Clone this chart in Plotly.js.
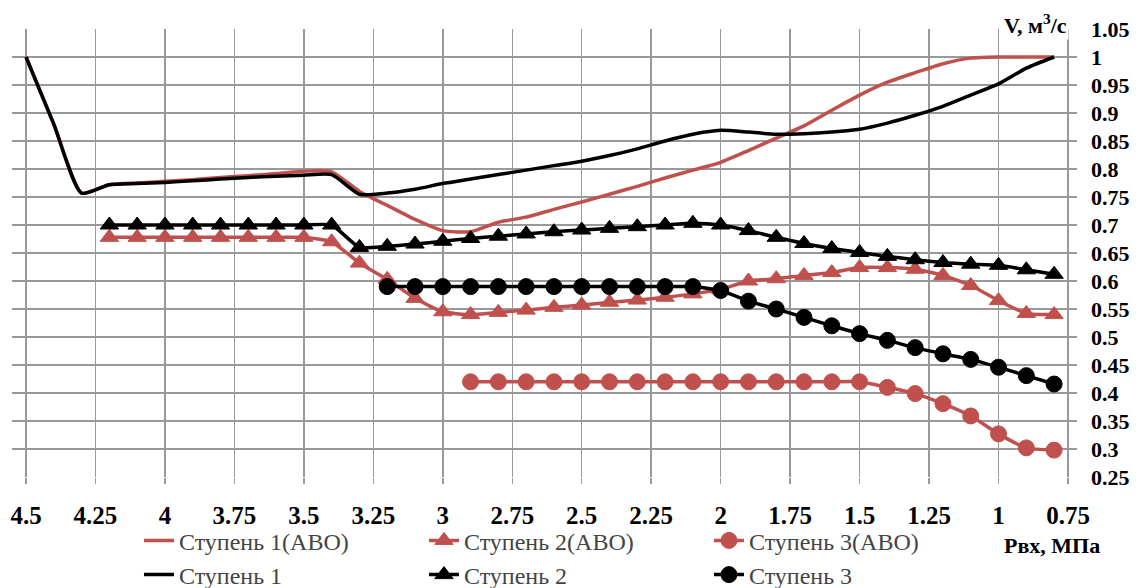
<!DOCTYPE html>
<html><head><meta charset="utf-8">
<script src="https://cdn.plot.ly/plotly-3.0.1.min.js"></script>
<style>
html,body{margin:0;padding:0;background:#fff;font-family:"Liberation Serif",serif}
#chart text{font-family:"Liberation Serif",serif !important}
</style>
</head><body><div id="chart" style="width:1141px;height:588px"></div>
<script>
// Pressure (MPa) grids
const pressureLine = [4.5,4.4,4.3,4.2,4.1,4.0,3.9,3.8,3.7,3.6,3.5,3.4,3.3,3.2,3.1,3.0,2.9,2.8,2.7,2.6,2.5,2.4,2.3,2.2,2.1,2.0,1.9,1.8,1.7,1.6,1.5,1.4,1.3,1.2,1.1,1.0,0.9,0.8];
const pressureStage2 = [4.2,4.1,4.0,3.9,3.8,3.7,3.6,3.5,3.4,3.3,3.2,3.1,3.0,2.9,2.8,2.7,2.6,2.5,2.4,2.3,2.2,2.1,2.0,1.9,1.8,1.7,1.6,1.5,1.4,1.3,1.2,1.1,1.0,0.9,0.8];
const pressureStage3 = [3.2,3.1,3.0,2.9,2.8,2.7,2.6,2.5,2.4,2.3,2.2,2.1,2.0,1.9,1.8,1.7,1.6,1.5,1.4,1.3,1.2,1.1,1.0,0.9,0.8];
const pressureStage3AVO = [2.9,2.8,2.7,2.6,2.5,2.4,2.3,2.2,2.1,2.0,1.9,1.8,1.7,1.6,1.5,1.4,1.3,1.2,1.1,1.0,0.9,0.8];

// Flow V (m3/s)
const stage1AVO = [1.0,0.88,0.757,0.772,0.775,0.778,0.781,0.785,0.788,0.792,0.796,0.795,0.76,0.735,0.71,0.69,0.688,0.705,0.714,0.728,0.741,0.755,0.769,0.784,0.798,0.812,0.833,0.855,0.877,0.905,0.932,0.955,0.972,0.988,0.998,1.0,1.0,1.0];
const stage1 = [1.0,0.88,0.757,0.772,0.774,0.776,0.779,0.782,0.785,0.787,0.789,0.79,0.755,0.757,0.764,0.774,0.782,0.79,0.798,0.806,0.814,0.824,0.836,0.85,0.862,0.869,0.866,0.862,0.863,0.866,0.871,0.882,0.896,0.912,0.932,0.952,0.98,1.0];
const stage2AVO = [0.678,0.678,0.678,0.678,0.678,0.678,0.678,0.678,0.67,0.632,0.603,0.569,0.545,0.54,0.544,0.548,0.553,0.557,0.562,0.566,0.571,0.577,0.585,0.6,0.604,0.61,0.615,0.624,0.624,0.621,0.61,0.592,0.565,0.542,0.54];
const stage2 = [0.70,0.70,0.70,0.70,0.70,0.70,0.70,0.70,0.70,0.66,0.662,0.666,0.671,0.676,0.68,0.684,0.688,0.691,0.694,0.697,0.70,0.703,0.70,0.69,0.678,0.667,0.658,0.651,0.644,0.638,0.633,0.63,0.628,0.62,0.612];
const stage3AVO = [0.42,0.42,0.42,0.42,0.42,0.42,0.42,0.42,0.42,0.42,0.42,0.42,0.42,0.42,0.42,0.41,0.399,0.381,0.359,0.327,0.302,0.298];
const stage3 = [0.59,0.59,0.59,0.59,0.59,0.59,0.59,0.59,0.59,0.59,0.59,0.59,0.583,0.564,0.55,0.535,0.52,0.506,0.494,0.481,0.47,0.46,0.446,0.431,0.416];

const names = ['Ступень 1(АВО)','Ступень 2(АВО)','Ступень 3(АВО)','Ступень 1','Ступень 2','Ступень 3'];

// Axis ticks
const xTickVals = [4.5,4.25,4,3.75,3.5,3.25,3,2.75,2.5,2.25,2,1.75,1.5,1.25,1,0.75];
const xTickText = ['4.5','4.25','4','3.75','3.5','3.25','3','2.75','2.5','2.25','2','1.75','1.5','1.25','1','0.75'];
const yTickVals = [0.25,0.3,0.35,0.4,0.45,0.5,0.55,0.6,0.65,0.7,0.75,0.8,0.85,0.9,0.95,1,1.05];
const yTickText = ['0.25','0.3','0.35','0.4','0.45','0.5','0.55','0.6','0.65','0.7','0.75','0.8','0.85','0.9','0.95','1','1.05'];

const RED = '#C0504D', BLACK = '#000000';
const FAM = 'Liberation Serif';

function lineTrace(x, y, name, color){
  return {x, y, name, type:'scatter', mode:'lines',
    line:{color, width:3.5, shape:'spline', smoothing:0.6}};
}
function markerTrace(x, y, name, color, symbol, size){
  return {x, y, name, type:'scatter', mode:'lines+markers',
    line:{color, width:3.5, shape:'spline', smoothing:0.5},
    marker:{color, symbol, size, line:{color, width:1}}};
}

const data = [
  lineTrace(pressureLine, stage1AVO, names[0], RED),
  markerTrace(pressureStage2, stage2AVO, names[1], RED, 'triangle-up', 16),
  markerTrace(pressureStage3AVO, stage3AVO, names[2], RED, 'circle', 16),
  lineTrace(pressureLine, stage1, names[3], BLACK),
  markerTrace(pressureStage2, stage2, names[4], BLACK, 'triangle-up', 16),
  markerTrace(pressureStage3, stage3, names[5], BLACK, 'circle', 16)
];

const layout = {
  width:1141, height:588,
  margin:{l:12, r:64, t:29, b:111},
  paper_bgcolor:'#fff', plot_bgcolor:'#fff',
  showlegend:true,
  legend:{orientation:'h', xref:'container', yref:'container', x:0.1218, xanchor:'left', y:0.1185, yanchor:'top',
    entrywidth:240, entrywidthmode:'pixels', traceorder:'normal',
    font:{family:FAM, size:24}, bgcolor:'rgba(0,0,0,0)'},
  xaxis:{range:[4.5504,0.7176], tickmode:'array', tickvals:xTickVals, ticktext:xTickText,
    showgrid:true, gridcolor:'#999', gridwidth:1.5, zeroline:false, showline:false,
    ticks:'outside', ticklen:6, tickcolor:'#999', tickwidth:1.5, ticklabelstandoff:10,
    tickfont:{family:FAM, size:25, color:'#000', weight:'bold'}},
  yaxis:{range:[0.25,1.05], side:'right', tickmode:'array', tickvals:yTickVals, ticktext:yTickText,
    showgrid:true, gridcolor:'#999', gridwidth:1.5, zeroline:false, showline:false,
    ticks:'', ticklabelstandoff:13,
    tickfont:{family:FAM, size:22, color:'#000', weight:'bold'}},
  annotations:[
    {text:'V, м<sup>3</sup>/с', xref:'paper', yref:'paper', x:0.9615, y:1.011, xanchor:'center', yanchor:'middle',
     showarrow:false, bgcolor:'#fff', font:{family:FAM, size:22, color:'#000', weight:'bold'}},
    {text:'Рвх, МПа', xref:'paper', yref:'paper', x:0.9765, y:-0.153, xanchor:'center', yanchor:'middle',
     showarrow:false, font:{family:FAM, size:22, color:'#000', weight:'bold'}}
  ]
};

Plotly.newPlot('chart', data, layout, {displayModeBar:false, staticPlot:true});
</script></body></html>
